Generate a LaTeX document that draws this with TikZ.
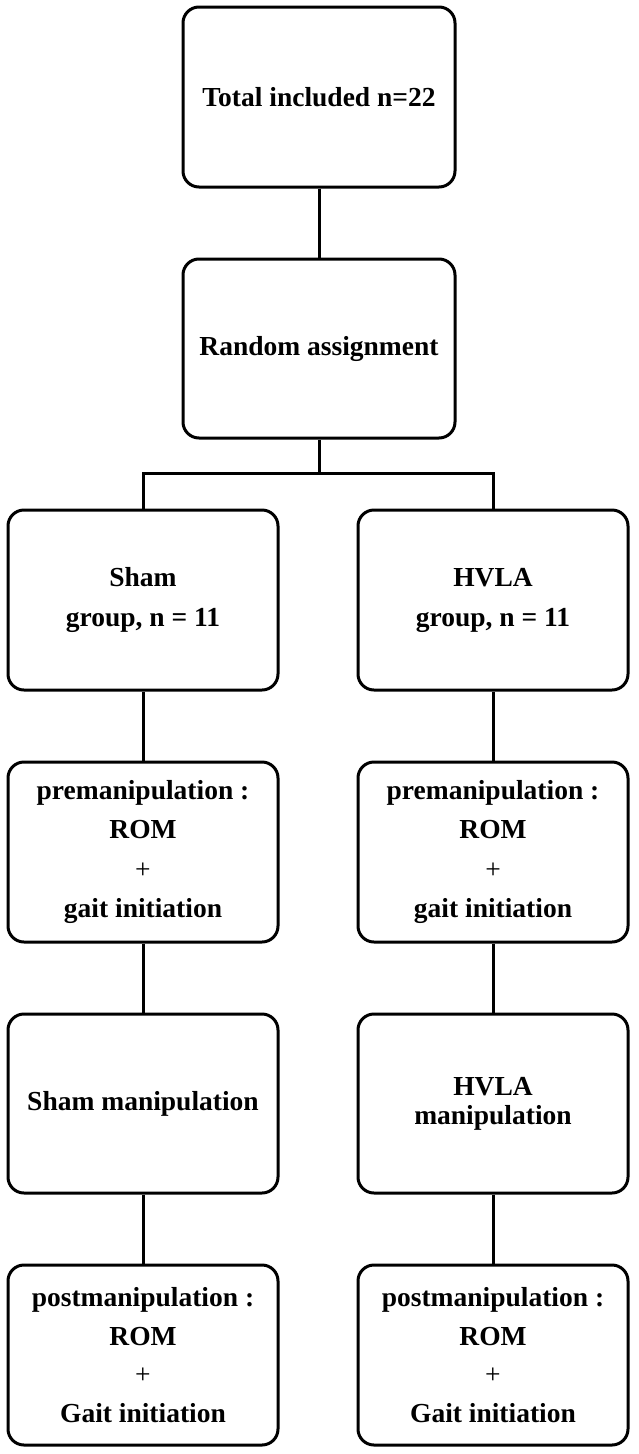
\documentclass[tikz,border=0pt]{standalone}
\usepackage{fontspec}
\setmainfont{Liberation Serif}
\tikzset{
  box/.style={draw, line width=3pt, rounded corners=16pt, minimum width=270pt,
    minimum height=180pt, inner sep=0pt, align=center,
    font=\bfseries\fontsize{27.5}{39.5}\selectfont},
  link/.style={line width=3pt}
}
\begin{document}
\begin{tikzpicture}[x=1pt,y=1pt]
\useasboundingbox (0,0) rectangle (638,-1454);
\node[box, minimum width=272pt] (top) at (319,-97) {Total included n=22};
\node[box, minimum width=272pt, minimum height=179pt] (ra) at (319,-348.5) {Random assignment};
\coordinate (br) at (319,-473);
\node[box, font=\bfseries\fontsize{27.5}{40}\selectfont] (l3) at (143,-600) {Sham\\group, n = 11};
\node[box, font=\bfseries\fontsize{27.5}{40}\selectfont] (r3) at (493,-600) {HVLA\\group, n = 11};
\node[box] (l4) at (143,-852) {premanipulation :\\ROM\\{\mdseries +}\\gait initiation};
\node[box] (r4) at (493,-852) {premanipulation :\\ROM\\{\mdseries +}\\gait initiation};
\node[box, minimum height=179pt] (l5) at (143,-1103.5) {Sham manipulation};
\node[box, minimum height=179pt, font=\bfseries\fontsize{27.5}{29}\selectfont] (r5) at (493,-1103.5) {HVLA\\manipulation};
\node[box, font=\bfseries\fontsize{27.5}{38.5}\selectfont] (l6) at (143,-1355) {postmanipulation :\\ROM\\{\mdseries +}\\Gait initiation};
\node[box, font=\bfseries\fontsize{27.5}{38.5}\selectfont] (r6) at (493,-1355) {postmanipulation :\\ROM\\{\mdseries +}\\Gait initiation};
\draw[link] (top.south) -- (ra.north);
\draw[link] (ra.south) -- (br);
\draw[link] (l3.north) |- (br) -| (r3.north);
\draw[link] (l3.south) -- (l4.north);
\draw[link] (r3.south) -- (r4.north);
\draw[link] (l4.south) -- (l5.north);
\draw[link] (r4.south) -- (r5.north);
\draw[link] (l5.south) -- (l6.north);
\draw[link] (r5.south) -- (r6.north);
\end{tikzpicture}
\end{document}
